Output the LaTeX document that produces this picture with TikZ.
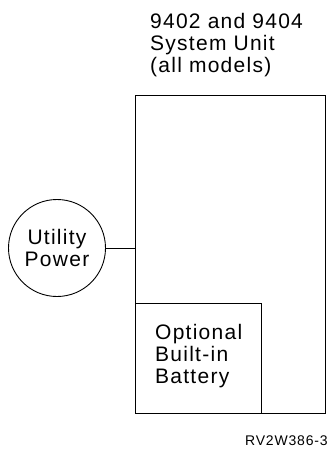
\documentclass[tikz,border=0pt]{standalone}
\usepackage{fontspec}
\setmainfont{Liberation Sans}[LetterSpace=6]
\begin{document}
\begin{tikzpicture}[x=1pt,y=-1pt,
  box/.style={draw, line width=1pt, inner sep=0pt, anchor=north west},
  lbl/.style={font=\fontsize{21}{22}\selectfont, inner sep=0pt},
  wire/.style={draw, line width=0.9pt}]
\useasboundingbox (0,0) rectangle (329,450);
\node[lbl, align=left, anchor=base west] (title) at (150,72.7) {9402 and 9404\\System Unit\\(all models)};
\node[box, minimum width=190pt, minimum height=318pt] (unit) at (135,95) {};
\node[box, minimum width=126pt, minimum height=110pt] (batt) at (135,303) {};
\node[lbl, align=left, anchor=base west] (btext) at (155,383) {Optional\\Built-in\\Battery};
\node[draw, circle, line width=0.9pt, minimum size=97pt, inner sep=0pt, lbl, align=center] (util) at (57,248) {Utility\\Power};
\draw[wire] (util.east) -- (unit.west |- util.east);
\node[font=\fontsize{14}{16}\selectfont, inner sep=0pt, anchor=base east] (code) at (328,445) {RV2W386-3};
\end{tikzpicture}
\end{document}
